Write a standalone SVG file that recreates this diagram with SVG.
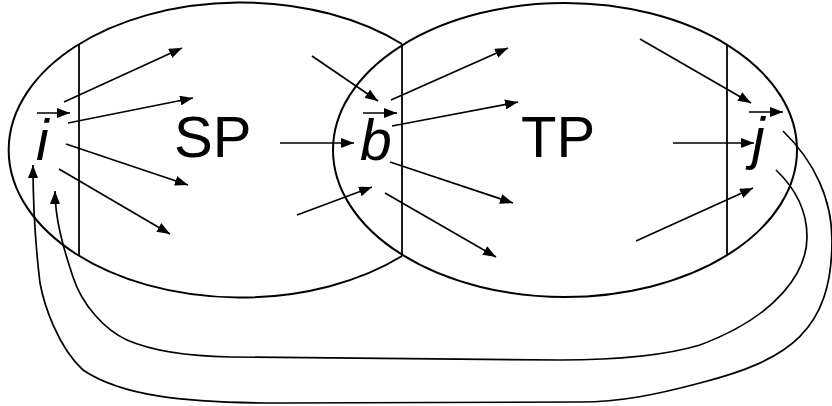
<svg xmlns="http://www.w3.org/2000/svg" width="832" height="406" viewBox="0 0 832 406">
<style>
.sh{fill:none;stroke:#000;stroke-width:2}
.vl{fill:none;stroke:#000;stroke-width:1.8}
.ar{fill:none;stroke:#000;stroke-width:1.7;marker-end:url(#ah)}
.lbl{font-family:"Liberation Sans",Arial,sans-serif;font-size:58px;fill:#000}
.it{font-style:italic;font-size:57px}
</style>
<defs>
<marker id="ah" markerUnits="userSpaceOnUse" markerWidth="14" markerHeight="10" refX="13" refY="5" orient="auto">
<path d="M0,0 L13,5 L0,10 Z" fill="#000"/>
</marker>
</defs>
<g id="sp-region">
<path class="sh" d="M402,44 A232,147.5 0 1 0 402,256"/>
<line class="vl" x1="79" y1="44" x2="79" y2="256"/>
</g>
<g id="tp-region">
<ellipse class="sh" cx="565" cy="150" rx="232" ry="147"/>
<line class="vl" x1="402" y1="44" x2="402" y2="256"/>
<line class="vl" x1="727" y1="44" x2="727" y2="256"/>
</g>
<g id="node-i">
<text class="lbl it" x="36" y="160">i</text>
<line class="ar" x1="37" y1="113" x2="70" y2="113"/>
</g>
<g id="node-SP"><text class="lbl" x="174" y="157">SP</text></g>
<g id="node-b">
<text class="lbl it" x="360" y="160">b</text>
<line class="ar" x1="363" y1="113" x2="397" y2="113"/>
</g>
<g id="node-TP"><text class="lbl" x="521" y="157">TP</text></g>
<g id="node-j">
<text class="lbl it" x="752" y="158">j</text>
<line class="ar" x1="749" y1="112" x2="783" y2="112"/>
</g>
<g id="connectors">
<line class="ar" x1="64" y1="102" x2="182" y2="48"/>
<line class="ar" x1="68" y1="123" x2="193" y2="98"/>
<line class="ar" x1="66" y1="144" x2="188" y2="185"/>
<line class="ar" x1="59" y1="169" x2="170" y2="234"/>
<line class="ar" x1="312" y1="56" x2="378" y2="101"/>
<line class="ar" x1="280" y1="143" x2="354" y2="143"/>
<line class="ar" x1="297" y1="215" x2="372" y2="187"/>
<line class="ar" x1="391" y1="100" x2="508" y2="48"/>
<line class="ar" x1="392" y1="126" x2="518" y2="102"/>
<line class="ar" x1="390" y1="162" x2="513" y2="203"/>
<line class="ar" x1="385" y1="193" x2="496" y2="257"/>
<line class="ar" x1="640" y1="39" x2="751" y2="103"/>
<line class="ar" x1="673" y1="143" x2="754" y2="143"/>
<line class="ar" x1="636" y1="241" x2="753" y2="188"/>
<path class="ar" d="M783,131 C815,162 832,200 832,240 C832,330 790,360 700,383 C655,395 620,402 580,402 L280,403 C180,403 120,395 83,370 C58,347 44,305 40,283 C36,250 33,200 33,165"/>
<path class="ar" d="M776,170 C795,188 807,210 807,237 C807,270 780,315 700,345 C660,357 610,360 560,360 L230,357 C180,356 150,350 127,340 C105,330 82,305 73,277 C64,250 55,220 55,191"/>
</g>
</svg>
